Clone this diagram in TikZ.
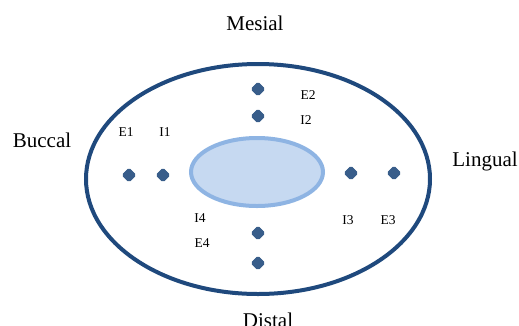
\documentclass[tikz,border=0pt]{standalone}
\usepackage{fontspec}
\setmainfont{Liberation Serif}
\usetikzlibrary{shapes.geometric}
\definecolor{rimblue}{HTML}{1F497D}
\definecolor{coreline}{HTML}{8EB4E3}
\definecolor{corefill}{HTML}{C6D9F1}
\definecolor{markblue}{HTML}{385D8A}
\tikzset{
  marker/.style={diamond, fill=markblue, draw=markblue, line width=1pt, rounded corners=1.5pt,
    minimum width=14pt, minimum height=14pt, inner sep=0pt},
  pointlabel/.style={font=\fontsize{13.5}{15}\selectfont, inner sep=0pt},
  sidelabel/.style={font=\fontsize{21}{24}\selectfont, inner sep=0pt}
}
\begin{document}
\begin{tikzpicture}[x=1pt, y=-1pt]
\useasboundingbox (0,0) rectangle (519,325);
% outer contour and central core
\draw[rimblue, line width=4pt] (258,179) ellipse [x radius=172, y radius=115];
\draw[coreline, fill=corefill, line width=4pt] (257,172) ellipse [x radius=66, y radius=34];
% measuring points
\node[marker] (e2) at (258,89) {};
\node[marker] (i2) at (258,116) {};
\node[marker] (e1) at (129,175) {};
\node[marker] (i1) at (163,175) {};
\node[marker] (i3) at (351,173) {};
\node[marker] (e3) at (394,173) {};
\node[marker] (i4) at (258,233) {};
\node[marker] (e4) at (258,263) {};
% point labels
\node[pointlabel] (le2) at (308,95) {E2};
\node[pointlabel] (li2) at (306,120) {I2};
\node[pointlabel] (le1) at (126,132) {E1};
\node[pointlabel] (li1) at (165,132) {I1};
\node[pointlabel] (li4) at (200,218) {I4};
\node[pointlabel] (le4) at (202,243) {E4};
\node[pointlabel] (li3) at (348,220) {I3};
\node[pointlabel] (le3) at (388,220) {E3};
% surface names
\node[sidelabel] (mesial) at (255,23) {Mesial};
\node[sidelabel] (buccal) at (42,140) {Buccal};
\node[sidelabel] (lingual) at (485,161) {Lingual};
\node[sidelabel] (distal) at (268,320) {Distal};
\end{tikzpicture}
\end{document}
